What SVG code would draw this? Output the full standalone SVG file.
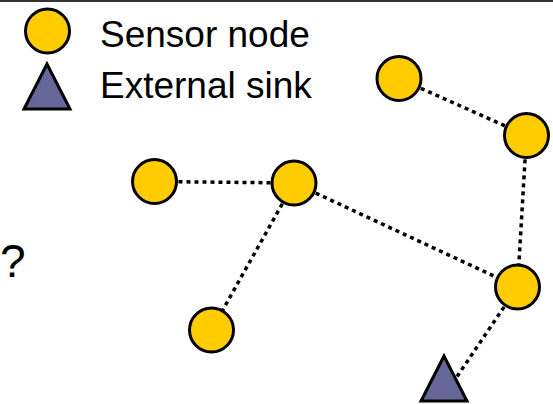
<svg xmlns="http://www.w3.org/2000/svg" width="553" height="404" viewBox="0 0 553 404">
  <style>
    .node { fill: #FFCC00; stroke: #000; stroke-width: 3; }
    .sink { fill: #666699; stroke: #000; stroke-width: 3; stroke-linejoin: miter; }
    .link { stroke: #000; stroke-width: 3.5; stroke-dasharray: 4 4; fill: none; }
    .lbl { font-family: "Liberation Sans", Arial, sans-serif; font-size: 37px; fill: #000; }
    .q { font-family: "Liberation Sans", Arial, sans-serif; font-size: 46px; fill: #000; }
  </style>
  <rect x="0" y="0" width="553" height="404" fill="#fff"/>
  <line x1="0" y1="1" x2="553" y2="1" stroke="#333" stroke-width="2"/>
  <g id="legend">
    <circle class="node" cx="47.5" cy="31" r="22"/>
    <polygon class="sink" points="47,64 24,109 70,109"/>
    <text class="lbl" x="100" y="47">Sensor node</text>
    <text class="lbl" x="100" y="98">External sink</text>
  </g>
  <text id="question" class="q" x="0" y="277">?</text>
  <g id="connectors">
    <line class="link" x1="399" y1="78.5" x2="526.5" y2="135.5"/>
    <line class="link" x1="526.5" y1="135.5" x2="517.5" y2="287"/>
    <line class="link" x1="154.5" y1="181.5" x2="294" y2="183"/>
    <line class="link" x1="294" y1="183" x2="517.5" y2="287"/>
    <line class="link" x1="294" y1="183" x2="211.5" y2="330"/>
    <line class="link" x1="517.5" y1="287" x2="448" y2="390"/>
  </g>
  <g id="n1"><circle class="node" cx="399" cy="78.5" r="22"/></g>
  <g id="n2"><circle class="node" cx="526.5" cy="135.5" r="22"/></g>
  <g id="n3"><circle class="node" cx="154.5" cy="181.5" r="22"/></g>
  <g id="n4"><circle class="node" cx="294" cy="183" r="22"/></g>
  <g id="n5"><circle class="node" cx="517.5" cy="287" r="22"/></g>
  <g id="n6"><circle class="node" cx="211.5" cy="330" r="22"/></g>
  <g id="sink"><polygon class="sink" points="444,356 421,401 467,401"/></g>
</svg>
